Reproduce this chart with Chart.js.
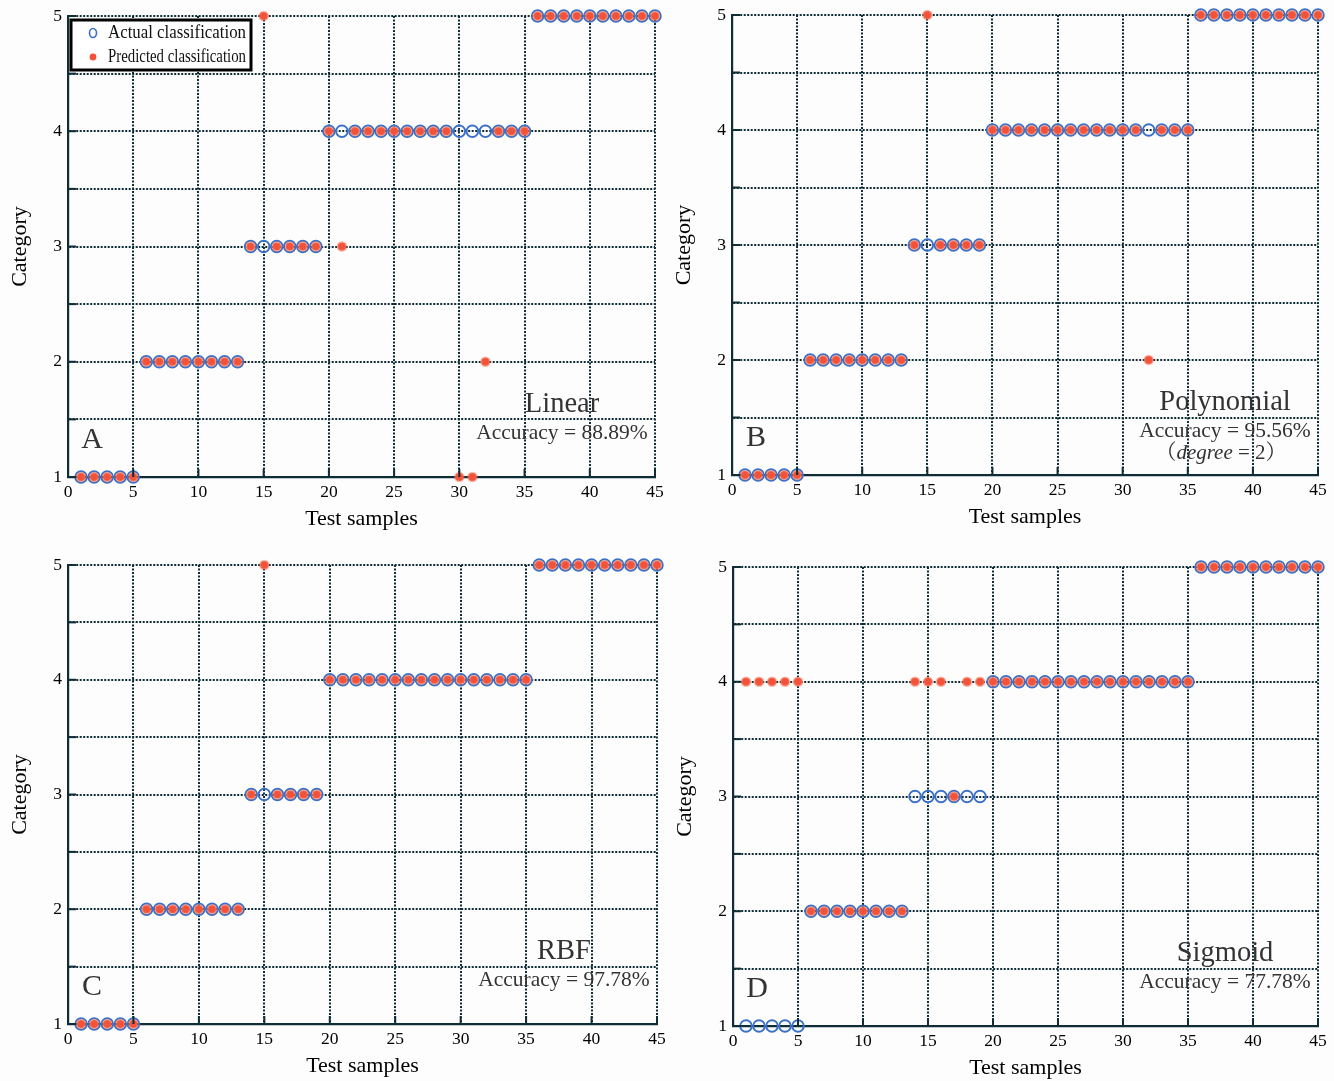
<!DOCTYPE html>
<html>
<head>
<meta charset="utf-8">
<title>SVM kernel classification</title>
<script src="https://cdn.jsdelivr.net/npm/chart.js@4.4.1/dist/chart.umd.min.js"></script>
<style>
    html, body { margin: 0; padding: 0; background: #fff; }
    #wrap { position: relative; width: 1334px; height: 1081px; overflow: hidden; background: #fdfdfe; }
    #wrap canvas { position: absolute; }
</style>
</head>
<body>
<div id="wrap"></div>
<script>
// test sample numbers (x axis)
const sampleIds = [1, 2, 3, 4, 5, 6, 7, 8, 9, 10, 11, 12, 13, 14, 15, 16, 17, 18, 19, 20,
    21, 22, 23, 24, 25, 26, 27, 28, 29, 30, 31, 32, 33, 34, 35, 36, 37, 38, 39, 40,
    41, 42, 43, 44, 45];

// actual category of each test sample
const actualClass = [1, 1, 1, 1, 1, 2, 2, 2, 2, 2, 2, 2, 2, 3, 3, 3, 3, 3, 3, 4,
    4, 4, 4, 4, 4, 4, 4, 4, 4, 4, 4, 4, 4, 4, 4, 5, 5, 5, 5, 5,
    5, 5, 5, 5, 5];

// predicted category, one list per kernel
const predLinear = [1, 1, 1, 1, 1, 2, 2, 2, 2, 2, 2, 2, 2, 3, 5, 3, 3, 3, 3, 4,
    3, 4, 4, 4, 4, 4, 4, 4, 4, 1, 1, 2, 4, 4, 4, 5, 5, 5, 5, 5,
    5, 5, 5, 5, 5];
const predPolynomial = [1, 1, 1, 1, 1, 2, 2, 2, 2, 2, 2, 2, 2, 3, 5, 3, 3, 3, 3, 4,
    4, 4, 4, 4, 4, 4, 4, 4, 4, 4, 4, 2, 4, 4, 4, 5, 5, 5, 5, 5,
    5, 5, 5, 5, 5];
const predRbf = [1, 1, 1, 1, 1, 2, 2, 2, 2, 2, 2, 2, 2, 3, 5, 3, 3, 3, 3, 4,
    4, 4, 4, 4, 4, 4, 4, 4, 4, 4, 4, 4, 4, 4, 4, 5, 5, 5, 5, 5,
    5, 5, 5, 5, 5];
const predSigmoid = [4, 4, 4, 4, 4, 2, 2, 2, 2, 2, 2, 2, 2, 4, 4, 4, 3, 4, 4, 4,
    4, 4, 4, 4, 4, 4, 4, 4, 4, 4, 4, 4, 4, 4, 4, 5, 5, 5, 5, 5,
    5, 5, 5, 5, 5];

const panelLetters = ["A", "B", "C", "D"];
const kernelNames = ["Linear", "Polynomial", "RBF", "Sigmoid"];
const accuracyTexts = ["Accuracy = 88.89%", "Accuracy = 95.56%", "Accuracy = 97.78%", "Accuracy = 77.78%"];
const kernelNotes = [null, ["（", "degree", " = 2", "）"], null, null];
const predictions = [predLinear, predPolynomial, predRbf, predSigmoid];

const xTickRange = { min: 0, max: 45, step: 5 };
const yTickRange = { min: 1, max: 5, step: 0.5 };

// chart area of each panel in page pixels (layout only)
const panelBoxes = [
    { left: 68, top: 16, right: 655, bottom: 477 },
    { left: 732, top: 15, right: 1318, bottom: 475 },
    { left: 68, top: 565, right: 657, bottom: 1024 },
    { left: 733, top: 567, right: 1318, bottom: 1026 }
];
const AXIS_W = 68, AXIS_H = 64, PAD_T = 20, PAD_R = 14;

const SERIF = '"Liberation Serif", "Noto Serif CJK SC", "Noto Sans CJK SC", serif';
const GRID_COLOR = "#0f2d36";
const BLUE = "#3a70c8";
const RED = "#f2513a";

// extra drawing: inward ticks, panel letter, kernel text, legend
const panelDecor = {
    id: "panelDecor",
    afterDraw(chart, args, opts) {
        const ctx = chart.ctx;
        const area = chart.chartArea;
        const xs = chart.scales.x;
        const ys = chart.scales.y;

        ctx.save();
        ctx.strokeStyle = GRID_COLOR;
        ctx.lineWidth = 2;
        xs.ticks.forEach(t => {
            const px = xs.getPixelForValue(t.value);
            ctx.beginPath();
            ctx.moveTo(px, area.bottom);
            ctx.lineTo(px, area.bottom - 8);
            ctx.stroke();
        });
        ys.ticks.forEach(t => {
            const py = ys.getPixelForValue(t.value);
            ctx.beginPath();
            ctx.moveTo(area.left, py);
            ctx.lineTo(area.left + 8, py);
            ctx.stroke();
        });

        ctx.fillStyle = "#333";
        ctx.textBaseline = "middle";
        ctx.textAlign = "center";
        ctx.font = "30px " + SERIF;
        ctx.fillText(opts.letter, area.left + 24, area.bottom - 37);

        const cx = area.right - 93;
        ctx.font = "28.5px " + SERIF;
        ctx.fillText(opts.name, cx, area.bottom - 72);
        ctx.font = "21.5px " + SERIF;
        ctx.fillText(opts.accuracy, cx, area.bottom - 44);

        if (opts.note) {
            const parts = opts.note;
            const fonts = ["21px " + SERIF, "italic 21px " + SERIF, "21px " + SERIF, "21px " + SERIF];
            let total = 0;
            const widths = parts.map((p, i) => {
                ctx.font = fonts[i];
                const w = ctx.measureText(p).width;
                total += w;
                return w;
            });
            let x = cx - 4 - total / 2;
            ctx.textAlign = "left";
            parts.forEach((p, i) => {
                ctx.font = fonts[i];
                ctx.fillText(p, x, area.bottom - 22);
                x += widths[i];
            });
        }

        if (opts.legend) {
            const lx = area.left + 3, ly = area.top + 4, lw = 180, lh = 50;
            ctx.fillStyle = "#fff";
            ctx.fillRect(lx, ly, lw, lh);
            ctx.strokeStyle = "#000";
            ctx.lineWidth = 3;
            ctx.strokeRect(lx, ly, lw, lh);

            const ds = chart.data.datasets;
            const rows = [ds[1], ds[0]];
            rows.forEach((d, i) => {
                const my = ly + 13 + i * 24;
                ctx.beginPath();
                if (d.label === "Actual classification") {
                    ctx.strokeStyle = d.borderColor;
                    ctx.lineWidth = 1.6;
                    ctx.ellipse(lx + 22, my, 3.5, 4.5, 0, 0, Math.PI * 2);
                    ctx.stroke();
                } else {
                    ctx.fillStyle = d.backgroundColor;
                    ctx.arc(lx + 22, my, 3.4, 0, Math.PI * 2);
                    ctx.fill();
                }
                ctx.fillStyle = "#111";
                ctx.textAlign = "left";
                ctx.font = "19.5px " + SERIF;
                ctx.fillText(d.label, lx + 37, my, 138);
            });
        }
        ctx.restore();
    }
};

const wrap = document.getElementById("wrap");

predictions.forEach((pred, k) => {
    const box = panelBoxes[k];
    const canvas = document.createElement("canvas");
    const w = box.right - box.left + AXIS_W + PAD_R;
    const h = box.bottom - box.top + PAD_T + AXIS_H;
    canvas.width = w;
    canvas.height = h;
    canvas.style.left = (box.left - AXIS_W) + "px";
    canvas.style.top = (box.top - PAD_T) + "px";
    canvas.style.width = w + "px";
    canvas.style.height = h + "px";
    wrap.appendChild(canvas);

    const predPoints = sampleIds.map((s, i) => ({ x: s, y: pred[i] }));
    const actualPoints = sampleIds.map((s, i) => ({ x: s, y: actualClass[i] }));

    new Chart(canvas, {
        type: "scatter",
        data: {
            datasets: [
                {
                    label: "Predicted classification",
                    data: predPoints,
                    order: 0,
                    pointStyle: "circle",
                    pointRadius: 4.1,
                    backgroundColor: RED,
                    borderColor: "rgba(245, 115, 85, 0.5)",
                    borderWidth: 2.4,
                    clip: false
                },
                {
                    label: "Actual classification",
                    data: actualPoints,
                    order: 1,
                    pointStyle: "circle",
                    pointRadius: 5.8,
                    backgroundColor: "rgba(0,0,0,0)",
                    borderColor: BLUE,
                    borderWidth: 1.9,
                    clip: false
                }
            ]
        },
        options: {
            responsive: false,
            animation: false,
            events: [],
            layout: { padding: { top: PAD_T, right: PAD_R, left: 0, bottom: 0 } },
            plugins: {
                legend: { display: false },
                tooltip: { enabled: false },
                panelDecor: {
                    letter: panelLetters[k],
                    name: kernelNames[k],
                    accuracy: accuracyTexts[k],
                    note: kernelNotes[k],
                    legend: k === 0
                }
            },
            scales: {
                x: {
                    type: "linear",
                    min: xTickRange.min,
                    max: xTickRange.max,
                    afterFit(scale) { scale.height = AXIS_H; },
                    ticks: {
                        stepSize: xTickRange.step,
                        padding: 5,
                        color: "#000",
                        maxRotation: 0,
                        font: { family: SERIF, size: 17.5 }
                    },
                    grid: { color: GRID_COLOR, lineWidth: 2, drawTicks: false },
                    border: { display: true, color: GRID_COLOR, width: 2.2, dash: [2, 1.5] },
                    title: {
                        display: true,
                        text: "Test samples",
                        color: "#000",
                        font: { family: SERIF, size: 22 },
                        padding: { top: 0, bottom: 9 }
                    }
                },
                y: {
                    type: "linear",
                    min: yTickRange.min,
                    max: yTickRange.max,
                    afterFit(scale) { scale.width = AXIS_W; },
                    ticks: {
                        stepSize: yTickRange.step,
                        padding: 6,
                        color: "#000",
                        font: { family: SERIF, size: 17.5 },
                        callback: v => (Number.isInteger(v) ? v : "")
                    },
                    grid: { color: GRID_COLOR, lineWidth: 2, drawTicks: false },
                    border: { display: true, color: GRID_COLOR, width: 2.2, dash: [2, 1.5] },
                    title: {
                        display: true,
                        text: "Category",
                        color: "#000",
                        font: { family: SERIF, size: 22 },
                        padding: { top: 7, bottom: 0 }
                    }
                }
            }
        },
        plugins: [panelDecor]
    });
});
</script>
</body>
</html>
